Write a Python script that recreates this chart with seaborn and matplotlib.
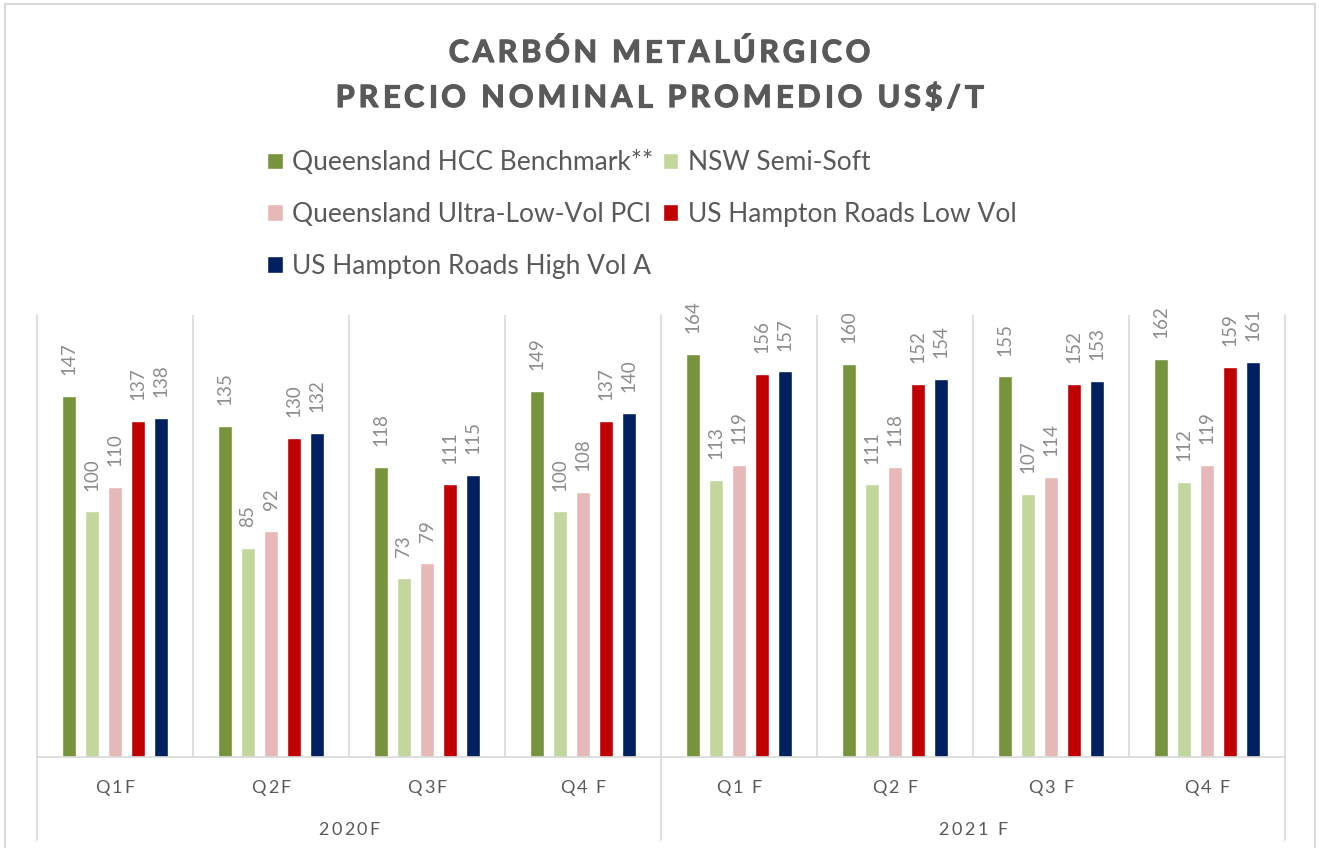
import pandas as pd
import matplotlib.pyplot as plt
import matplotlib.patheffects as pe
import seaborn as sns
from matplotlib.patches import Rectangle
from matplotlib.transforms import IdentityTransform
from matplotlib.font_manager import FontProperties

quarters = ["Q1F", "Q2F", "Q3F", "Q4 F", "Q1 F", "Q2 F", "Q3 F", "Q4 F"]
years = ["2020F", "2021 F"]
series = [
    "Queensland HCC Benchmark**",
    "NSW Semi-Soft",
    "Queensland Ultra-Low-Vol PCI",
    "US Hampton Roads Low Vol",
    "US Hampton Roads High Vol A",
]
qld_hcc = [147, 135, 118, 149, 164, 160, 155, 162]
nsw_semi = [100, 85, 73, 100, 113, 111, 107, 112]
qld_pci = [110, 92, 79, 108, 119, 118, 114, 119]
us_low = [137, 130, 111, 137, 156, 152, 152, 159]
us_high = [138, 132, 115, 140, 157, 154, 153, 161]
colors = ["#77933C", "#C3D69B", "#E6B9B8", "#C00000", "#002060"]

rows = []
for s, vals in zip(series, [qld_hcc, nsw_semi, qld_pci, us_low, us_high]):
    for i, v in enumerate(vals):
        rows.append({"slot": i, "serie": s, "valor": v})
df = pd.DataFrame(rows)

sns.set_style("white")
plt.rcParams["font.family"] = ["Lato", "DejaVu Sans"]

W, H = 1319, 848
fig = plt.figure(figsize=(W / 100, H / 100), dpi=100)
ax = fig.add_axes([37 / W, 91 / H, 1248 / W, 442 / H])

sns.barplot(data=df, x="slot", y="valor", hue="serie", hue_order=series,
            palette=colors, width=0.74, gap=0.42, ax=ax, saturation=1)

for cont in ax.containers:
    ax.bar_label(cont, rotation=90, padding=15, color="#8c8c8c", fontsize=13.5)

ax.set_ylim(0, 180)
ax.set_xlim(-0.5, len(quarters) - 0.5)
ax.set_yticks([])
ax.set_xticks([])
ax.set_xlabel("")
ax.set_ylabel("")

for sp in ["top", "left", "right"]:
    ax.spines[sp].set_visible(False)
ax.spines["bottom"].set_color("#d9d9d9")
ax.spines["bottom"].set_linewidth(1.2)

# separators between quarters
for x in [0.5, 1.5, 2.5, 4.5, 5.5, 6.5]:
    ax.axvline(x, color="#d9d9d9", lw=1.2, zorder=0)
# year separators run down through the label area
for x in [-0.5, 3.5, 7.5]:
    ax.plot([x, x], [1, -0.188], color="#d9d9d9", lw=1.2,
            transform=ax.get_xaxis_transform(), clip_on=False)

# legend, row-wise order
h, l = ax.get_legend_handles_labels()
order = [0, 2, 4, 1, 3]
ax.legend([h[k] for k in order], [l[k] for k in order], ncol=2,
          loc="upper left", bbox_to_anchor=(254 / W, 1 - 137 / H),
          bbox_transform=fig.transFigure, frameon=False, fontsize=19,
          borderpad=0, handlelength=0.6, handleheight=0.6, handletextpad=0.35,
          columnspacing=0.35, labelspacing=1.02, labelcolor="#595959")

# letter-spaced text (Excel style), positions in pixels from top-left
renderer = fig.canvas.get_renderer()


def char_w(c, fp):
    w = lambda s: renderer.get_text_width_height_descent(s, fp, ismath=False)[0]
    return w("x" + c + "x") - w("xx")


def spaced(x, y_top, s, track, fp, color, **kw):
    ws = [char_w(c, fp) for c in s]
    cx = x - (sum(ws) + track * (len(s) - 1)) / 2
    for c, w in zip(s, ws):
        fig.text(cx, H - y_top, c, transform=IdentityTransform(),
                 fontproperties=fp, color=color, ha="left", va="baseline", **kw)
        cx += w + track


title_fp = FontProperties(family="Lato", weight="bold", size=22)
thick = [pe.withStroke(linewidth=0.9, foreground="#595959")]
spaced(W / 2, 62, "CARBÓN METALÚRGICO", 3.8, title_fp, "#595959",
       path_effects=thick)
spaced(W / 2, 107, "PRECIO NOMINAL PROMEDIO US$/T", 4.0, title_fp, "#595959",
       path_effects=thick)

tick_fp = FontProperties(family="Lato", size=13)
for i, q in enumerate(quarters):
    px = ax.transData.transform((i, 0))[0]
    spaced(px, 793, q, 2.0, tick_fp, "#595959")
for i, y in enumerate(years):
    px = ax.transData.transform((1.5 + 4 * i, 0))[0]
    spaced(px, 835, y, 2.5, tick_fp, "#595959")

fig.patches.append(Rectangle((5 / W, -0.01), 1310 / W, 1 - 4 / H + 0.01,
                             transform=fig.transFigure, fill=False,
                             edgecolor="#d9d9d9", lw=1.5))

fig.savefig("out.png", dpi=100)
